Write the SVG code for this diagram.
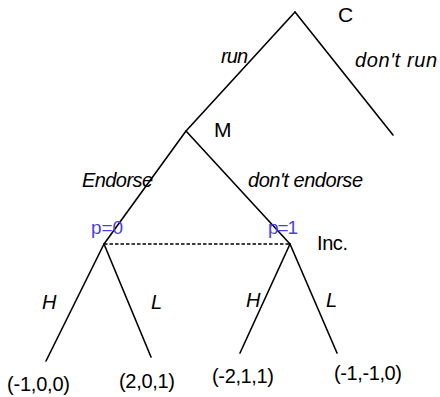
<svg xmlns="http://www.w3.org/2000/svg" width="440" height="397" viewBox="0 0 440 397">
<style>
.e{stroke:#000;stroke-width:1.6;fill:none;stroke-linecap:round}
.d{stroke:#000;stroke-width:1.4;stroke-dasharray:3.5 2;fill:none}
text{font-family:"Liberation Sans",Arial,sans-serif;fill:#000}
.n{font-size:21px}
.i{font-size:20px;font-style:italic}
.p{font-size:20px}
.b{font-size:19px;fill:#4b3fe0}
</style>
<rect width="440" height="397" fill="#fff"/>
<g id="connectors">
<line class="e" x1="295" y1="12" x2="186" y2="131"/>
<line class="e" x1="295" y1="12" x2="393" y2="135"/>
<line class="e" x1="186" y1="131" x2="104" y2="244"/>
<line class="e" x1="186" y1="131" x2="290" y2="244"/>
<line class="d" x1="104" y1="244" x2="290" y2="244"/>
<line class="e" x1="104" y1="244" x2="46" y2="361"/>
<line class="e" x1="104" y1="244" x2="151" y2="357"/>
<line class="e" x1="290" y1="244" x2="240" y2="353"/>
<line class="e" x1="290" y1="244" x2="337" y2="353"/>
<text class="i" x="221" y="63" textLength="27">run</text>
<text class="i" x="355" y="67" textLength="82">don't run</text>
<text class="i" x="82" y="187" textLength="71">Endorse</text>
<text class="i" x="248" y="187" textLength="115">don't endorse</text>
<text class="i" x="42" y="309">H</text>
<text class="i" x="151" y="309">L</text>
<text class="i" x="246" y="307">H</text>
<text class="i" x="326" y="307">L</text>
</g>
<g id="node-C"><text class="n" x="338" y="22">C</text></g>
<g id="node-M"><text class="n" x="214" y="137">M</text></g>
<g id="node-Inc"><text class="p" x="317" y="250" textLength="31">Inc.</text>
<text class="b" x="91" y="234" textLength="32">p=0</text>
<text class="b" x="268" y="234" textLength="30">p=1</text></g>
<g id="leaf-1"><text class="p" x="7" y="391" textLength="63">(-1,0,0)</text></g>
<g id="leaf-2"><text class="p" x="119" y="388" textLength="56">(2,0,1)</text></g>
<g id="leaf-3"><text class="p" x="212" y="383" textLength="62">(-2,1,1)</text></g>
<g id="leaf-4"><text class="p" x="334" y="380" textLength="68">(-1,-1,0)</text></g>
</svg>
